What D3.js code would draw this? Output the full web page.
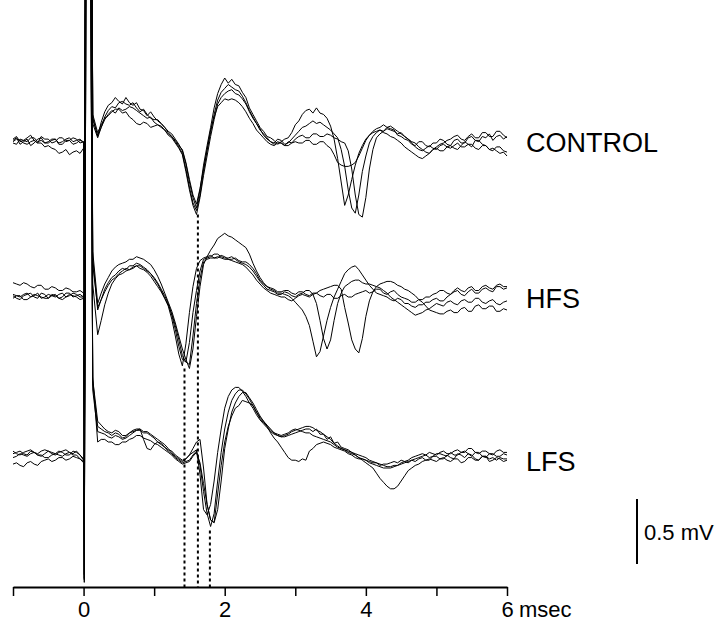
<!DOCTYPE html>
<html>
<head>
<meta charset="utf-8">
<script src="https://cdn.jsdelivr.net/npm/d3@7"></script>
<style>
  body { margin: 0; background: #fff; }
  svg { display: block; font-family: "Liberation Sans", Arial, Helvetica, sans-serif; }
  .trace { fill: none; stroke: #000; stroke-width: 1; stroke-linejoin: round; }
</style>
</head>
<body>
<div id="chart"></div>
<script>
// sample times (msec) shared by every sweep; extra points around the stimulus artifact
const timeMs = [
  -1.00,-0.95,-0.90,-0.85,-0.80,-0.75,-0.70,-0.65,-0.60,-0.55,-0.50,-0.45,-0.40,-0.35,-0.30,-0.25,-0.20,-0.15,-0.10,-0.05,0.00,
  0.01,0.04,0.09,0.13,
  0.20,0.25,0.30,0.35,0.40,0.45,0.50,0.55,0.60,0.65,
  0.70,0.75,0.80,0.85,0.90,0.95,1.00,1.05,1.10,1.15,
  1.20,1.25,1.30,1.35,1.40,1.45,1.50,1.55,1.60,1.65,
  1.70,1.75,1.80,1.85,1.90,1.95,2.00,2.05,2.10,2.15,
  2.20,2.25,2.30,2.35,2.40,2.45,2.50,2.55,2.60,2.65,
  2.70,2.75,2.80,2.85,2.90,2.95,3.00,3.05,3.10,3.15,
  3.20,3.25,3.30,3.35,3.40,3.45,3.50,3.55,3.60,3.65,
  3.70,3.75,3.80,3.85,3.90,3.95,4.00,4.05,4.10,4.15,
  4.20,4.25,4.30,4.35,4.40,4.45,4.50,4.55,4.60,4.65,
  4.70,4.75,4.80,4.85,4.90,4.95,5.00,5.05,5.10,5.15,
  5.20,5.25,5.30,5.35,5.40,5.45,5.50,5.55,5.60,5.65,
  5.70,5.75,5.80,5.85,5.90,5.95,6.00];

// sweeps in mV, relative to each row's baseline (same layout as timeMs)
const controlTraces = [
  [0.02,0.04,-0.01,0.01,0.03, -0.02,0.00,0.03,0.04,0.00, 0.01,0.03,0.03,-0.01,-0.01, 0.02,0.02,-0.01,0.00,0.02, 0.01,
   -1.40,5.0,5.0,0.20,
   0.05,0.16,0.24,0.29,0.31,0.35,0.32,0.30,0.35,0.31,
   0.29,0.31,0.26,0.25,0.21,0.24,0.20,0.17,0.15,0.12,
   0.09,0.07,0.03,-0.01,-0.06,-0.16,-0.30,-0.42,-0.50,-0.36,
   -0.17,-0.02,0.12,0.27,0.38,0.45,0.50,0.46,0.49,0.45,
   0.44,0.39,0.35,0.27,0.22,0.17,0.12,0.09,0.05,0.04,
   0.02,-0.01,0.01,0.03,0.04,0.08,0.14,0.17,0.22,0.25,
   0.26,0.23,0.27,0.23,0.22,0.19,0.13,0.03,-0.12,-0.30,
   -0.48,-0.40,-0.28,-0.17,-0.08,-0.02,0.03,0.06,0.09,0.11,
   0.12,0.14,0.12,0.11,0.10,0.06,0.05,0.03,0.02,-0.01,
   -0.02,0.01,0.01,-0.02,-0.03,0.00,0.00,0.03,0.02,-0.01,
   -0.02,0.02,0.03,0.00,0.00,0.04,0.05,0.02,0.01,0.05,
   0.04,0.07,0.02,0.05,0.06,0.03,0.05],
  [0.00,-0.01,0.03,0.02,0.01, 0.04,0.04,0.01,0.02,0.00, 0.00,0.02,0.03,0.00,0.01, 0.03,0.04,0.01,0.02,0.03, 0.00,
   -1.35,5.0,5.0,0.15,
   0.04,0.12,0.20,0.25,0.28,0.27,0.31,0.32,0.30,0.29,
   0.31,0.27,0.24,0.26,0.22,0.19,0.18,0.18,0.15,0.12,
   0.08,0.05,0.01,-0.03,-0.08,-0.20,-0.34,-0.46,-0.52,-0.40,
   -0.22,-0.06,0.08,0.22,0.33,0.39,0.42,0.45,0.43,0.41,
   0.40,0.36,0.31,0.25,0.20,0.15,0.10,0.07,0.04,0.01,
   0.00,0.03,0.02,-0.01,0.00,0.03,0.06,0.09,0.12,0.13,
   0.15,0.17,0.15,0.16,0.14,0.12,0.10,0.07,0.04,-0.05,
   -0.18,-0.36,-0.50,-0.54,-0.40,-0.22,-0.10,0.00,0.05,0.08,
   0.10,0.09,0.12,0.13,0.11,0.09,0.07,0.05,0.03,0.00,
   -0.03,-0.05,-0.06,-0.04,-0.02,-0.04,-0.05,-0.02,-0.01,-0.03,
   -0.04,-0.02,0.00,-0.03,-0.03,-0.01,-0.01,-0.04,-0.05,-0.02,
   -0.02,-0.05,-0.06,-0.03,-0.03,-0.06,-0.07],
  [0.01,0.03,0.02,0.00,-0.01, 0.01,0.02,0.00,0.00,-0.03, -0.02,-0.04,-0.05,-0.08,-0.07, -0.05,-0.09,-0.07,-0.06,-0.08, -0.04,
   -1.45,5.0,5.0,0.18,
   0.06,0.12,0.18,0.22,0.25,0.23,0.27,0.25,0.26,0.28,
   0.27,0.25,0.23,0.21,0.19,0.20,0.16,0.14,0.12,0.10,
   0.06,0.04,0.00,-0.04,-0.09,-0.22,-0.36,-0.48,-0.55,-0.42,
   -0.25,-0.10,0.05,0.18,0.30,0.35,0.38,0.40,0.41,0.38,
   0.37,0.34,0.30,0.24,0.19,0.15,0.11,0.06,0.03,0.01,
   -0.01,0.01,0.00,-0.02,0.01,0.00,0.03,0.05,0.06,0.04,
   0.04,0.07,0.07,0.05,0.05,0.07,0.06,0.04,0.03,0.01,
   0.00,-0.06,-0.20,-0.40,-0.55,-0.57,-0.42,-0.20,-0.05,0.04,
   0.07,0.09,0.11,0.10,0.09,0.07,0.08,0.05,0.03,0.01,
   0.00,-0.03,-0.05,-0.07,-0.08,-0.05,-0.04,-0.06,-0.06,-0.03,
   -0.02,-0.04,-0.05,-0.02,0.01,-0.01,-0.03,0.02,0.02,-0.01,
   -0.02,-0.05,-0.04,-0.06,-0.08,-0.07,-0.10],
  [0.03,0.05,0.01,0.02,0.04, 0.06,0.02,0.00,0.05,0.03, 0.03,0.00,0.01,0.04,0.04, 0.01,0.02,0.04,0.03,0.00, 0.01,
   -1.42,5.0,5.0,0.22,
   0.08,0.14,0.19,0.21,0.24,0.26,0.26,0.23,0.24,0.20,
   0.18,0.15,0.14,0.16,0.15,0.12,0.13,0.14,0.13,0.10,
   0.07,0.05,0.02,-0.02,-0.05,-0.15,-0.28,-0.40,-0.47,-0.35,
   -0.20,-0.05,0.10,0.20,0.28,0.31,0.34,0.33,0.34,0.33,
   0.31,0.28,0.24,0.19,0.15,0.10,0.07,0.04,0.01,-0.01,
   -0.02,0.00,0.00,-0.02,-0.02,0.00,0.01,0.00,0.00,0.02,
   0.02,-0.01,-0.01,0.01,0.01,-0.02,-0.04,-0.09,-0.15,-0.17,
   -0.18,-0.18,-0.17,-0.15,-0.10,-0.04,0.02,0.06,0.08,0.09,
   0.10,0.08,0.07,0.05,0.04,0.02,0.00,-0.03,-0.05,-0.07,
   -0.09,-0.11,-0.12,-0.10,-0.08,-0.05,-0.03,-0.01,0.00,0.02,
   0.03,0.05,0.06,0.03,0.02,0.05,0.07,0.04,0.04,0.08,
   0.08,0.05,0.05,0.09,0.09,0.06,0.04]
];

const hfsTraces = [
  [0.01,-0.01,-0.02,0.01,0.02, 0.03,0.00,-0.01,0.03,0.02, -0.01,0.01,0.02,-0.01,0.00, 0.03,0.03,0.00,0.01,0.02, 0.00,
   -1.70,5.0,5.0,0.30,
   -0.10,-0.02,0.06,0.11,0.15,0.17,0.20,0.22,0.21,0.24,
   0.24,0.26,0.25,0.23,0.21,0.18,0.14,0.10,0.05,-0.01,
   -0.07,-0.17,-0.30,-0.44,-0.53,-0.36,-0.12,0.08,0.22,0.28,
   0.30,0.31,0.32,0.30,0.30,0.32,0.31,0.29,0.29,0.30,
   0.28,0.27,0.27,0.25,0.22,0.18,0.13,0.10,0.08,0.06,
   0.05,0.03,0.03,0.02,0.01,-0.01,-0.04,-0.07,-0.10,-0.15,
   -0.22,-0.34,-0.46,-0.42,-0.30,-0.18,-0.08,0.00,0.06,0.12,
   0.18,0.21,0.23,0.24,0.21,0.17,0.13,0.09,0.06,0.03,
   0.02,0.01,0.00,-0.02,-0.03,-0.01,-0.02,-0.05,-0.05,-0.07,
   -0.08,-0.06,-0.06,-0.04,-0.04,-0.02,-0.01,-0.03,-0.03,0.00,
   0.02,0.04,0.05,0.02,0.01,0.04,0.06,0.03,0.03,0.06,
   0.07,0.05,0.04,0.08,0.08,0.06,0.07],
  [-0.01,0.01,0.01,-0.02,-0.02, 0.00,0.02,0.01,0.00,-0.01, -0.01,0.02,0.01,-0.01,-0.02, 0.00,0.02,0.01,0.00,-0.02, -0.01,
   -1.65,5.0,5.0,0.10,
   -0.29,-0.18,-0.06,0.03,0.10,0.14,0.17,0.18,0.20,0.21,
   0.22,0.24,0.24,0.22,0.20,0.18,0.15,0.11,0.06,0.01,
   -0.05,-0.14,-0.25,-0.38,-0.48,-0.50,-0.35,-0.12,0.05,0.20,
   0.29,0.30,0.31,0.33,0.33,0.31,0.30,0.30,0.31,0.29,
   0.27,0.26,0.25,0.23,0.20,0.16,0.12,0.09,0.06,0.05,
   0.04,0.02,0.02,0.04,0.03,0.01,0.00,0.02,0.03,0.05,
   0.05,0.02,-0.05,-0.18,-0.32,-0.40,-0.33,-0.18,-0.05,0.03,
   0.08,0.10,0.12,0.13,0.13,0.11,0.10,0.10,0.09,0.08,
   0.07,0.05,0.03,0.00,-0.02,-0.04,-0.06,-0.08,-0.10,-0.12,
   -0.14,-0.13,-0.12,-0.10,-0.09,-0.07,-0.05,-0.06,-0.07,-0.04,
   -0.03,-0.05,-0.06,-0.03,-0.02,-0.04,-0.04,-0.01,-0.01,-0.04,
   -0.05,-0.03,-0.02,-0.05,-0.06,-0.04,-0.03],
  [0.02,0.01,0.00,0.02,0.03, 0.00,0.01,0.03,-0.01,0.00, 0.02,0.01,0.00,0.02,0.03, 0.00,0.01,0.03,0.02,0.00, 0.00,
   -1.75,5.0,5.0,0.25,
   -0.08,-0.02,0.04,0.09,0.13,0.15,0.18,0.20,0.22,0.21,
   0.23,0.24,0.22,0.21,0.19,0.16,0.12,0.08,0.04,-0.01,
   -0.06,-0.13,-0.22,-0.33,-0.45,-0.50,-0.52,-0.30,-0.05,0.14,
   0.27,0.29,0.30,0.30,0.31,0.30,0.29,0.29,0.28,0.27,
   0.26,0.25,0.23,0.20,0.17,0.13,0.10,0.07,0.05,0.03,
   0.02,0.01,0.00,0.00,-0.02,-0.03,-0.01,0.01,0.02,0.01,
   0.00,0.02,0.03,0.05,0.06,0.07,0.08,0.09,0.09,0.06,
   -0.08,-0.20,-0.33,-0.40,-0.43,-0.32,-0.15,-0.03,0.04,0.08,
   0.10,0.11,0.12,0.12,0.11,0.09,0.08,0.06,0.05,0.03,
   0.01,-0.02,-0.04,-0.07,-0.10,-0.11,-0.12,-0.13,-0.13,-0.11,
   -0.10,-0.12,-0.12,-0.09,-0.08,-0.11,-0.11,-0.07,-0.06,-0.09,
   -0.09,-0.07,-0.07,-0.11,-0.11,-0.09,-0.10],
  [0.11,0.10,0.09,0.11,0.10, 0.08,0.07,0.09,0.09,0.06, 0.06,0.08,0.07,0.05,0.05, 0.07,0.06,0.04,0.04,0.05, 0.03,
   -1.68,5.0,5.0,0.35,
   -0.05,0.03,0.10,0.15,0.20,0.23,0.25,0.26,0.27,0.29,
   0.29,0.31,0.30,0.29,0.27,0.25,0.21,0.16,0.10,0.03,
   -0.04,-0.11,-0.20,-0.30,-0.40,-0.48,-0.55,-0.40,-0.15,0.08,
   0.25,0.31,0.36,0.40,0.45,0.47,0.49,0.47,0.46,0.44,
   0.42,0.40,0.38,0.33,0.26,0.20,0.15,0.11,0.08,0.07,
   0.06,0.04,0.04,0.05,0.05,0.03,0.02,0.04,0.04,0.02,
   0.01,0.03,0.03,0.01,0.00,0.02,0.02,-0.01,-0.01,0.01,
   0.02,0.00,0.00,0.02,0.03,0.04,0.05,0.03,0.04,0.06,
   0.06,0.03,0.02,0.04,0.05,0.02,0.00,-0.01,-0.02,-0.04,
   -0.04,-0.02,-0.02,0.00,0.00,0.02,0.03,0.05,0.05,0.03,
   0.02,0.05,0.07,0.05,0.04,0.07,0.08,0.05,0.05,0.08,
   0.09,0.07,0.06,0.09,0.10,0.08,0.08]
];

const lfsTraces = [
  [0.01,0.02,0.03,0.01,0.00, 0.03,0.02,0.00,-0.01,0.01, 0.03,0.02,0.01,0.03,0.02, 0.00,0.00,0.03,0.02,0.00, -0.03,
   -0.95,5.0,5.0,0.55,
   0.22,0.20,0.18,0.17,0.15,0.17,0.16,0.13,0.14,0.17,
   0.18,0.19,0.20,0.18,0.18,0.16,0.14,0.12,0.10,0.08,
   0.05,0.02,-0.01,-0.03,-0.05,-0.03,0.00,0.02,0.04,-0.15,
   -0.42,-0.46,-0.38,-0.20,0.02,0.20,0.36,0.45,0.50,0.52,
   0.52,0.49,0.45,0.40,0.36,0.31,0.27,0.24,0.21,0.18,
   0.16,0.15,0.14,0.14,0.15,0.16,0.17,0.18,0.19,0.20,
   0.20,0.18,0.20,0.16,0.16,0.12,0.14,0.09,0.10,0.06,
   0.05,0.04,0.02,0.01,0.00,-0.01,-0.02,-0.04,-0.05,-0.06,
   -0.07,-0.08,-0.09,-0.09,-0.08,-0.08,-0.07,-0.06,-0.05,-0.04,
   -0.03,-0.02,-0.01,0.00,0.02,0.01,0.00,0.02,0.03,0.01,
   0.01,0.03,0.04,0.02,0.02,0.05,0.05,0.02,0.01,0.03,
   0.03,0.01,0.00,0.03,0.04,0.02,0.02],
  [-0.02,-0.01,0.01,0.00,-0.01, 0.01,0.02,0.00,0.00,-0.02, -0.02,0.00,0.01,0.00,-0.01, 0.01,0.02,0.00,0.00,-0.03, -0.05,
   -0.92,5.0,5.0,0.50,
   0.18,0.17,0.16,0.14,0.13,0.15,0.14,0.12,0.13,0.15,
   0.17,0.19,0.19,0.17,0.17,0.15,0.13,0.10,0.09,0.06,
   0.03,0.01,-0.02,-0.04,-0.06,-0.05,-0.04,0.00,0.03,-0.08,
   -0.28,-0.45,-0.55,-0.45,-0.20,0.02,0.20,0.33,0.42,0.47,
   0.50,0.50,0.47,0.43,0.38,0.33,0.28,0.25,0.22,0.19,
   0.17,0.15,0.14,0.15,0.16,0.18,0.19,0.20,0.21,0.22,
   0.22,0.21,0.19,0.18,0.16,0.14,0.12,0.09,0.07,0.05,
   0.04,0.02,0.01,0.00,-0.02,-0.03,-0.04,-0.06,-0.07,-0.08,
   -0.09,-0.10,-0.10,-0.10,-0.09,-0.08,-0.06,-0.05,-0.04,-0.02,
   -0.01,0.00,0.01,0.00,-0.02,-0.01,0.01,0.01,0.00,-0.01,
   0.02,0.00,0.00,0.02,0.03,0.01,-0.01,0.02,0.02,-0.01,
   -0.02,0.01,0.01,-0.01,-0.01,0.01,0.00],
  [-0.07,-0.06,-0.08,-0.09,-0.06, -0.05,-0.07,-0.08,-0.05,-0.04, -0.03,-0.05,-0.04,-0.02,-0.02, -0.04,-0.03,-0.01,-0.02,-0.03, -0.06,
   -0.98,5.0,5.0,0.60,
   0.10,0.12,0.12,0.10,0.10,0.08,0.08,0.10,0.10,0.12,
   0.13,0.15,0.15,0.13,0.12,0.11,0.09,0.08,0.06,0.04,
   0.02,0.00,-0.03,-0.05,-0.07,-0.06,-0.05,-0.01,0.02,-0.06,
   -0.22,-0.38,-0.50,-0.52,-0.42,-0.20,0.05,0.20,0.33,0.40,
   0.45,0.48,0.48,0.44,0.40,0.35,0.30,0.26,0.22,0.17,
   0.13,0.10,0.06,0.02,-0.02,-0.04,-0.04,-0.05,-0.03,-0.04,
   0.03,0.05,0.08,0.09,0.10,0.09,0.08,0.06,0.05,0.04,
   0.03,0.01,0.00,-0.02,-0.03,-0.03,-0.04,-0.05,-0.06,-0.06,
   -0.08,-0.07,-0.07,-0.06,-0.05,-0.06,-0.04,-0.05,-0.06,-0.04,
   -0.05,-0.03,-0.02,-0.04,-0.04,-0.01,-0.01,-0.03,-0.03,0.00,
   -0.02,-0.03,0.01,0.00,-0.02,0.01,0.00,-0.03,-0.04,-0.01,
   -0.01,-0.03,-0.02,-0.04,-0.02,-0.03,-0.03],
  [0.03,0.01,0.00,0.02,0.03, 0.04,0.02,0.01,0.03,0.04, 0.03,0.01,0.00,0.02,0.03, 0.04,0.02,0.01,0.03,0.00, -0.04,
   -0.96,5.0,5.0,0.58,
   0.26,0.23,0.20,0.18,0.17,0.19,0.18,0.15,0.15,0.17,
   0.19,0.20,0.20,0.12,0.05,0.04,0.08,0.10,0.08,0.06,
   0.04,0.03,0.00,-0.02,-0.04,-0.03,0.00,0.05,0.10,0.12,
   -0.10,-0.38,-0.50,-0.52,-0.30,-0.08,0.10,0.22,0.30,0.36,
   0.38,0.42,0.41,0.40,0.38,0.33,0.29,0.26,0.23,0.20,
   0.17,0.16,0.15,0.16,0.17,0.19,0.20,0.19,0.18,0.17,
   0.17,0.15,0.14,0.13,0.12,0.11,0.10,0.08,0.06,0.05,
   0.04,0.03,0.02,0.00,-0.02,-0.04,-0.06,-0.08,-0.10,-0.14,
   -0.18,-0.21,-0.24,-0.26,-0.26,-0.24,-0.20,-0.16,-0.12,-0.10,
   -0.08,-0.07,-0.05,-0.04,-0.03,-0.04,-0.05,-0.03,-0.02,-0.04,
   -0.05,-0.03,-0.03,-0.06,-0.05,-0.02,-0.02,-0.04,-0.04,-0.01,
   -0.01,-0.05,-0.04,-0.02,-0.03,-0.05,-0.04]
];

const groupNames = ['CONTROL', 'HFS', 'LFS'];
const peakLatency = [1.62, 1.43, 1.79];      // msec, dotted markers
const peakDepth   = [-0.55, -0.55, -0.58];   // mV, where each marker starts
const axisTicks   = [-1, 0, 1, 2, 3, 4, 5, 6];
const scaleBarMv  = 0.5;

(function () {
  const W = 720, H = 626;
  const axisY = 587;
  const baselines = [143, 297, 455];
  const labelY = [152, 308, 471];
  const groups = [controlTraces, hfsTraces, lfsTraces];

  groups.forEach((traces, g) => traces.forEach((t, k) => {
    if (t.length !== timeMs.length) throw new Error(`${groupNames[g]} sweep ${k}: ${t.length} values, expected ${timeMs.length}`);
  }));

  const svg = d3.select('#chart')
    .append('svg')
      .attr('width', W)
      .attr('height', H);

  const x = d3.scaleLinear().domain([-1, 6]).range([13, 507]);
  // mV -> vertical offset from a row baseline
  const y = d3.scaleLinear().domain([0, 0.5]).range([0, -65]);

  const line = d3.line()
    .x((d, i) => x(timeMs[i]))
    .y(d => y(d));

  /* ─── sweeps ─────────────────────────────────────────── */
  groups.forEach((traces, g) => {
    const row = svg.append('g')
      .attr('transform', `translate(0,${baselines[g]})`);

    row.selectAll('path')
      .data(traces)
      .join('path')
        .attr('class', 'trace')
        .attr('d', line);

    svg.append('text')
      .attr('x', 526)
      .attr('y', labelY[g])
      .attr('font-size', 27)
      .text(groupNames[g]);
  });

  /* ─── dotted latency markers ─────────────────────────── */
  svg.append('g')
    .selectAll('line')
    .data(peakLatency)
    .join('line')
      .attr('x1', d => x(d))
      .attr('x2', d => x(d))
      .attr('y1', (d, i) => baselines[i] + y(peakDepth[i]))
      .attr('y2', axisY)
      .attr('stroke', '#000')
      .attr('stroke-width', 2)
      .attr('stroke-dasharray', '3,3');

  /* ─── time axis ──────────────────────────────────────── */
  const axisG = svg.append('g')
    .attr('transform', `translate(0,${axisY})`)
    .call(d3.axisBottom(x)
      .tickValues(axisTicks)
      .tickSize(9)
      .tickSizeOuter(0)
      .tickPadding(5)
      .tickFormat(d => (d >= 0 && d % 2 === 0) ? d : ''));

  axisG.attr('font-family', null).attr('font-size', 22);
  axisG.select('.domain').attr('stroke-width', 2);
  axisG.selectAll('.tick line').attr('stroke-width', 1.5);
  axisG.selectAll('.tick text').attr('fill', '#000');

  svg.append('text')
    .attr('x', x(6) + 12)
    .attr('y', axisY + 14)
    .attr('dy', '0.71em')
    .attr('font-size', 22)
    .text('msec');

  /* ─── 0.5 mV scale bar ───────────────────────────────── */
  const barBottom = 564;
  svg.append('line')
    .attr('x1', 637).attr('x2', 637)
    .attr('y1', barBottom)
    .attr('y2', barBottom + y(scaleBarMv))
    .attr('stroke', '#000')
    .attr('stroke-width', 2);

  svg.append('text')
    .attr('x', 644)
    .attr('y', 540)
    .attr('font-size', 22)
    .text(`${scaleBarMv} mV`);
})();
</script>
</body>
</html>
